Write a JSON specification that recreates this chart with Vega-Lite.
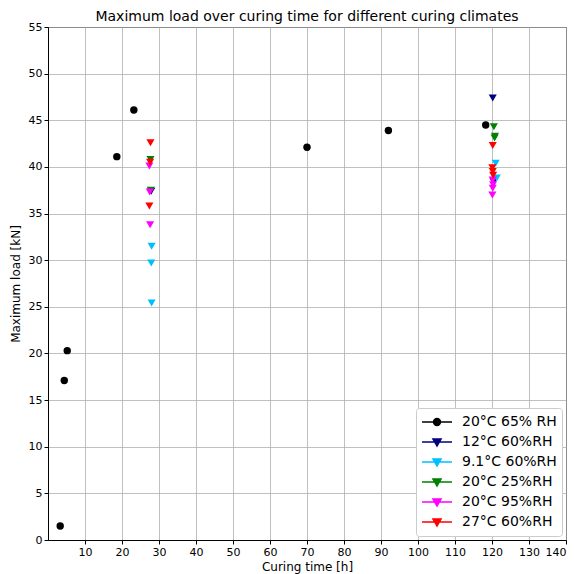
{
  "$schema": "https://vega.github.io/schema/vega-lite/v6.json",
  "autosize": {"type": "none"},
  "padding": {"left": 48, "top": 27, "right": 8, "bottom": 34},
  "width": 518,
  "height": 513,
  "background": "white",
  "title": {"text": "Maximum load over curing time for different curing climates", "font": "DejaVu Sans", "fontSize": 14, "fontWeight": "normal", "color": "black", "offset": -3},
  "config": {
    "view": {"stroke": "black", "strokeWidth": 1},
    "axis": {"labelFont": "DejaVu Sans", "titleFont": "DejaVu Sans", "labelFontSize": 11, "titleFontSize": 12, "titleFontWeight": "normal", "labelColor": "black", "titleColor": "black", "domainColor": "black", "tickColor": "black", "tickSize": 4, "gridColor": "#b0b0b0", "gridWidth": 0.8, "gridOpacity": 1}
  },
  "data": {"values": [
    {"series": "20°C 65% RH", "time": 3.3, "load": 1.5},
    {"series": "20°C 65% RH", "time": 4.4, "load": 17.1},
    {"series": "20°C 65% RH", "time": 5.2, "load": 20.3},
    {"series": "20°C 65% RH", "time": 18.6, "load": 41.1},
    {"series": "20°C 65% RH", "time": 23.2, "load": 46.1},
    {"series": "20°C 65% RH", "time": 70.0, "load": 42.1},
    {"series": "20°C 65% RH", "time": 92.0, "load": 43.9},
    {"series": "20°C 65% RH", "time": 118.3, "load": 44.5},
    {"series": "12°C 60%RH", "time": 27.9, "load": 37.4},
    {"series": "12°C 60%RH", "time": 120.2, "load": 47.4},
    {"series": "12°C 60%RH", "time": 120.4, "load": 38.4},
    {"series": "9.1°C 60%RH", "time": 28.0, "load": 31.5},
    {"series": "9.1°C 60%RH", "time": 27.9, "load": 29.7},
    {"series": "9.1°C 60%RH", "time": 28.0, "load": 25.4},
    {"series": "9.1°C 60%RH", "time": 121.0, "load": 40.4},
    {"series": "9.1°C 60%RH", "time": 121.3, "load": 38.8},
    {"series": "20°C 25%RH", "time": 27.7, "load": 40.8},
    {"series": "20°C 25%RH", "time": 27.8, "load": 37.5},
    {"series": "20°C 25%RH", "time": 120.5, "load": 44.3},
    {"series": "20°C 25%RH", "time": 120.8, "load": 43.3},
    {"series": "20°C 25%RH", "time": 120.7, "load": 43.1},
    {"series": "20°C 95%RH", "time": 27.4, "load": 40.1},
    {"series": "20°C 95%RH", "time": 27.5, "load": 37.3},
    {"series": "20°C 95%RH", "time": 27.6, "load": 33.8},
    {"series": "20°C 95%RH", "time": 120.2, "load": 38.6},
    {"series": "20°C 95%RH", "time": 120.3, "load": 38.1},
    {"series": "20°C 95%RH", "time": 120.2, "load": 37.7},
    {"series": "20°C 95%RH", "time": 120.1, "load": 37.0},
    {"series": "27°C 60%RH", "time": 27.7, "load": 42.6},
    {"series": "27°C 60%RH", "time": 27.6, "load": 40.5},
    {"series": "27°C 60%RH", "time": 27.4, "load": 35.8},
    {"series": "27°C 60%RH", "time": 120.2, "load": 42.3},
    {"series": "27°C 60%RH", "time": 120.1, "load": 39.9},
    {"series": "27°C 60%RH", "time": 120.2, "load": 39.5},
    {"series": "27°C 60%RH", "time": 120.3, "load": 39.1}
  ]},
  "encoding": {
    "x": {"field": "time", "type": "quantitative", "scale": {"domain": [0, 140], "nice": false, "zero": false},
      "axis": {"title": "Curing time [h]", "values": [10,20,30,40,50,60,70,80,90,100,110,120,130,140], "titlePadding": 4}},
    "y": {"field": "load", "type": "quantitative", "scale": {"domain": [0, 55], "nice": false},
      "axis": {"title": "Maximum load [kN]", "values": [0,5,10,15,20,25,30,35,40,45,50,55], "titlePadding": 6}}
  },
  "layer": [
    {
      "transform": [{"filter": "datum.series === '20°C 65% RH'"}],
      "mark": {"type": "point", "shape": "circle", "filled": true, "opacity": 1, "strokeWidth": 0, "size": 55},
      "encoding": {
        "color": {"field": "series", "type": "nominal", "legend": null,
          "scale": {"domain": ["12°C 60%RH", "20°C 25%RH", "20°C 65% RH", "20°C 95%RH", "27°C 60%RH", "9.1°C 60%RH"],
                    "range": ["#000080", "#008000", "#000000", "#ff00ff", "#ff0000", "#00bfff"]}}
      }
    },
    {
      "transform": [{"filter": "datum.series !== '20°C 65% RH'"}],
      "mark": {"type": "point", "shape": "triangle-down", "filled": true, "opacity": 1, "strokeWidth": 0, "size": 65},
      "encoding": {
        "color": {"field": "series", "type": "nominal", "legend": null,
          "scale": {"domain": ["12°C 60%RH", "20°C 25%RH", "20°C 65% RH", "20°C 95%RH", "27°C 60%RH", "9.1°C 60%RH"],
                    "range": ["#000080", "#008000", "#000000", "#ff00ff", "#ff0000", "#00bfff"]}}
      }
    },
    {
      "mark": {"type": "point", "filled": true, "opacity": 0, "strokeWidth": 1.5, "size": 10},
      "encoding": {
        "fill": {"field": "series", "type": "nominal",
          "legend": {"title": null, "orient": "bottom-right", "offset": 4, "fillColor": "white", "strokeColor": "#cccccc", "cornerRadius": 3, "padding": 5,
            "labelFont": "DejaVu Sans", "labelFontSize": 14, "labelColor": "black", "symbolSize": 900, "labelOffset": 9, "rowPadding": 2, "clipHeight": 18,
            "symbolStrokeWidth": 1.5, "symbolOpacity": 1},
          "scale": {"domain": ["20°C 65% RH", "12°C 60%RH", "9.1°C 60%RH", "20°C 25%RH", "20°C 95%RH", "27°C 60%RH"],
                    "range": ["#000000", "#000080", "#00bfff", "#008000", "#ff00ff", "#ff0000"]}},
        "stroke": {"field": "series", "type": "nominal",
          "legend": {"title": null, "orient": "bottom-right", "offset": 4, "fillColor": "white", "strokeColor": "#cccccc", "cornerRadius": 3, "padding": 5,
            "labelFont": "DejaVu Sans", "labelFontSize": 14, "labelColor": "black", "symbolSize": 900, "labelOffset": 9, "rowPadding": 2, "clipHeight": 18,
            "symbolStrokeWidth": 1.5, "symbolOpacity": 1},
          "scale": {"domain": ["20°C 65% RH", "12°C 60%RH", "9.1°C 60%RH", "20°C 25%RH", "20°C 95%RH", "27°C 60%RH"],
                    "range": ["#000000", "#000080", "#00bfff", "#008000", "#ff00ff", "#ff0000"]}},
        "shape": {"field": "series", "type": "nominal",
          "legend": {"title": null, "orient": "bottom-right", "offset": 4, "fillColor": "white", "strokeColor": "#cccccc", "cornerRadius": 3, "padding": 5,
            "labelFont": "DejaVu Sans", "labelFontSize": 14, "labelColor": "black", "symbolSize": 900, "labelOffset": 9, "rowPadding": 2, "clipHeight": 18,
            "symbolStrokeWidth": 1.5, "symbolOpacity": 1},
          "scale": {"domain": ["20°C 65% RH", "12°C 60%RH", "9.1°C 60%RH", "20°C 25%RH", "20°C 95%RH", "27°C 60%RH"],
                    "range": ["M-1,0L1,0M-0.23,0A0.23,0.23 0 1,0 0.23,0A0.23,0.23 0 1,0 -0.23,0Z", "M-1,0L1,0M-0.27,-0.2L0.27,-0.2L0,0.27Z", "M-1,0L1,0M-0.27,-0.2L0.27,-0.2L0,0.27Z", "M-1,0L1,0M-0.27,-0.2L0.27,-0.2L0,0.27Z", "M-1,0L1,0M-0.27,-0.2L0.27,-0.2L0,0.27Z", "M-1,0L1,0M-0.27,-0.2L0.27,-0.2L0,0.27Z"]}}
      }
    }
  ]
}
